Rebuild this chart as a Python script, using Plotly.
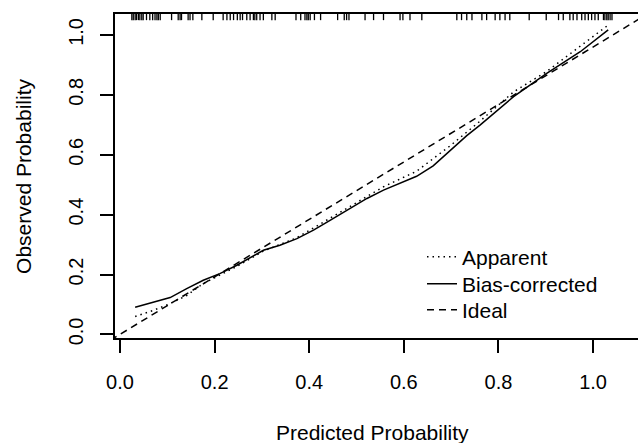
import plotly.graph_objects as go

# calibration curves
pred_bias = [0.032, 0.070, 0.106, 0.141, 0.176, 0.211, 0.247, 0.303, 0.338, 0.374, 0.409, 0.444,
             0.479, 0.522, 0.557, 0.592, 0.627, 0.662, 0.698, 0.733, 0.761, 0.832, 0.902, 0.973, 1.032]
obs_bias = [0.091, 0.108, 0.123, 0.153, 0.181, 0.203, 0.231, 0.281, 0.298, 0.320, 0.348, 0.381,
            0.415, 0.454, 0.482, 0.504, 0.528, 0.563, 0.613, 0.664, 0.699, 0.794, 0.872, 0.944, 1.017]

pred_app = [0.032, 0.070, 0.106, 0.141, 0.176, 0.211, 0.247, 0.303, 0.374, 0.444, 0.522, 0.557,
            0.627, 0.698, 0.761, 0.832, 0.902, 0.973, 1.032]
obs_app = [0.060, 0.080, 0.103, 0.130, 0.170, 0.197, 0.227, 0.278, 0.323, 0.388, 0.462, 0.493,
           0.545, 0.630, 0.712, 0.810, 0.878, 0.961, 1.033]

ideal_x = [-0.02, 1.12]
ideal_y = [-0.019, 1.075]

# rug of predicted probabilities along the top
rug_x = [0.025, 0.028, 0.032, 0.035, 0.039, 0.042, 0.046, 0.049, 0.056, 0.063, 0.069, 0.074, 0.078,
         0.081, 0.085, 0.109, 0.123, 0.127, 0.130, 0.144, 0.148, 0.154, 0.173, 0.197, 0.218, 0.226,
         0.233, 0.240, 0.248, 0.254, 0.259, 0.268, 0.275, 0.282, 0.285, 0.289, 0.296, 0.303, 0.321,
         0.328, 0.372, 0.382, 0.391, 0.395, 0.398, 0.402, 0.411, 0.424, 0.460, 0.474, 0.479, 0.484,
         0.518, 0.536, 0.557, 0.592, 0.598, 0.613, 0.638, 0.712, 0.722, 0.733, 0.744, 0.765, 0.775,
         0.793, 0.803, 0.814, 0.824, 0.865, 0.901, 0.927, 0.937, 0.951, 0.958, 0.966, 0.976, 0.983,
         0.990, 0.997, 1.004, 1.011, 1.022, 1.025, 1.029, 1.032, 1.036, 1.040]

ticks = [0.0, 0.2, 0.4, 0.6, 0.8, 1.0]
tick_text = ["0.0", "0.2", "0.4", "0.6", "0.8", "1.0"]

fnt = "Liberation Sans, Arial, sans-serif"

fig = go.Figure()
fig.add_trace(go.Scatter(x=pred_app, y=obs_app, mode="lines", name="Apparent", legend="legend",
                         line=dict(color="black", width=1.5, dash="1.5px,4px")))
fig.add_trace(go.Scatter(x=pred_bias, y=obs_bias, mode="lines", name="Bias-corrected",
                         legend="legend2", line=dict(color="black", width=1.5)))
fig.add_trace(go.Scatter(x=ideal_x, y=ideal_y, mode="lines", name="Ideal", legend="legend3",
                         line=dict(color="black", width=1.5, dash="7px,5px")))

shapes = [dict(type="line", xref="x", yref="paper", x0=v, x1=v, y0=1, y1=0.981,
               line=dict(color="black", width=1.3)) for v in rug_x]

# one single-entry legend per line so the rows sit as tightly as in R
leg = dict(x=0.587, xanchor="left", yanchor="top", font=dict(size=21),
           bgcolor="rgba(0,0,0,0)")

fig.update_layout(
    width=638, height=443,
    margin=dict(l=115, r=0, t=14, b=105, autoexpand=False),
    paper_bgcolor="white", plot_bgcolor="white",
    font=dict(family=fnt, size=20, color="black"),
    showlegend=True,
    legend=dict(leg, y=0.313),
    legend2=dict(leg, y=0.230),
    legend3=dict(leg, y=0.149),
    shapes=shapes,
    xaxis=dict(range=[-0.0106, 1.095], tickvals=ticks, ticktext=tick_text, automargin=False,
               showgrid=False, zeroline=False, showline=True, linecolor="black", linewidth=1.5,
               mirror=True, ticks="outside", ticklen=13, tickcolor="black", tickwidth=1.5,
               ticklabelstandoff=12),
    yaxis=dict(range=[-0.012, 1.070], tickvals=ticks, ticktext=tick_text, tickangle=-90,
               automargin=False,
               showgrid=False, zeroline=False, showline=True, linecolor="black", linewidth=1.5,
               ticks="outside", ticklen=13, tickcolor="black", tickwidth=1.5,
               ticklabelstandoff=9),
    annotations=[
        dict(text="Predicted Probability", xref="paper", yref="paper", x=0.492, y=-0.293,
             xanchor="center", yanchor="middle", showarrow=False, font=dict(size=21)),
        dict(text="Observed Probability", xref="paper", yref="paper", x=-0.176, y=0.5,
             xanchor="center", yanchor="middle", textangle=-90, showarrow=False,
             font=dict(size=21)),
    ],
)

# drop the browser's default body margin so the figure sits at the window corner
fig.write_html("out.html", config={"displayModeBar": False},
               post_script="document.body.style.margin='0';")
